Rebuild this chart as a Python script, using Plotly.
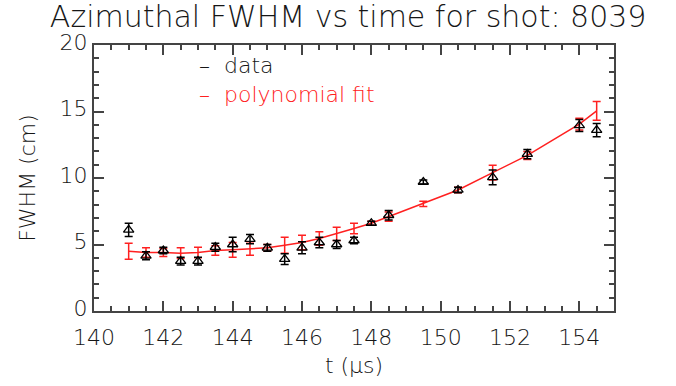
import plotly.graph_objects as go

# data
t_data = [141, 141.5, 142, 142.5, 143, 143.5, 144, 144.5, 145, 145.5, 146, 146.5,
          147, 147.5, 148, 148.5, 149.5, 150.5, 151.5, 152.5, 154, 154.5]
fwhm = [6.1, 4.15, 4.55, 3.75, 3.75, 4.8, 5.0, 5.4, 4.75, 3.9, 4.75, 5.15,
        5.0, 5.3, 6.6, 7.2, 9.7, 9.1, 10.05, 11.8, 13.95, 13.6]
fwhm_err = [0.5, 0.3, 0.25, 0.3, 0.3, 0.3, 0.55, 0.35, 0.25, 0.4, 0.45, 0.4,
            0.3, 0.25, 0.15, 0.35, 0.15, 0.2, 0.55, 0.35, 0.45, 0.5]
fit = [4.5, 4.4, 4.4, 4.35, 4.4, 4.55, 4.6, 4.7, 4.75, 4.95, 5.15, 5.45,
       5.8, 6.2, 6.6, 7.1, 8.05, 9.1, 10.4, 11.7, 14.05, 15.05]
fit_err = [0.6, 0.35, 0.3, 0.4, 0.4, 0.35, 0.55, 0.5, 0.25, 0.6, 0.55, 0.5,
           0.5, 0.4, 0.15, 0.35, 0.2, 0.2, 0.55, 0.3, 0.45, 0.7]

x_ticks = [140, 142, 144, 146, 148, 150, 152, 154]
y_ticks = [0, 5, 10, 15, 20]
legend_labels = ["data", "polynomial fit"]

FONT = "DejaVu Sans"
TXT = "#161616"
AX = "#444444"
RED = "#ff2020"

fig = go.Figure()
fig.add_trace(go.Scatter(
    x=t_data, y=fit, mode="lines", line=dict(color=RED, width=1.5),
    error_y=dict(type="data", array=fit_err, color=RED, thickness=1.5, width=4),
    showlegend=False, hoverinfo="skip"))
fig.add_trace(go.Scatter(
    x=t_data, y=fwhm, mode="markers",
    marker=dict(symbol="triangle-up-open", size=9, color="black", line=dict(width=1.3)),
    error_y=dict(type="data", array=fwhm_err, color="black", thickness=1.5, width=4),
    showlegend=False))

axis_common = dict(showgrid=False, zeroline=False, showline=True, linecolor=AX,
                   linewidth=2, mirror="allticks", ticks="inside", tickcolor=AX,
                   tickwidth=1.5, ticklen=10)

fig.update_xaxes(range=[140, 155], tickvals=x_ticks, ticktext=[str(v) for v in x_ticks],
                 tickfont=dict(family=FONT, size=22, color=TXT, weight=300),
                 ticklabelstandoff=6,
                 minor=dict(ticks="inside", dtick=0.5, tick0=140, ticklen=5,
                            tickcolor=AX, tickwidth=1.5),
                 title=dict(text="t (\u03bcs)",
                            font=dict(family=FONT, size=22, color=TXT, weight=300),
                            standoff=8),
                 **axis_common)
fig.update_yaxes(range=[0, 20], tickvals=y_ticks, ticktext=[str(v) for v in y_ticks],
                 tickfont=dict(family=FONT, size=22, color=TXT, weight=300),
                 ticklabelshift=-3,
                 minor=dict(ticks="inside", dtick=1, tick0=0, ticklen=5,
                            tickcolor=AX, tickwidth=1.5),
                 title=dict(text="FWHM (cm)",
                            font=dict(family=FONT, size=22, color=TXT, weight=300),
                            standoff=18),
                 **axis_common)

legend_text = (f"\u2013  {legend_labels[0]}<br>"
               f"<span style='color:{RED}'>\u2013  {legend_labels[1]}</span>")

fig.update_layout(
    width=676, height=386,
    margin=dict(l=94, r=62, t=45, b=66),
    paper_bgcolor="white", plot_bgcolor="white",
    title=dict(text="Azimuthal FWHM vs time for shot: 8039",
               font=dict(family=FONT, size=30, color=TXT, weight=300),
               x=0.515, xanchor="center", y=0.957, yanchor="middle"),
    annotations=[
        dict(text=legend_text, xref="paper", yref="paper", x=0.198, y=0.867,
             xanchor="left", yanchor="middle", align="left", showarrow=False,
             font=dict(family=FONT, size=22, color=TXT, weight=300)),
    ],
)

fig.write_html("out.html")
